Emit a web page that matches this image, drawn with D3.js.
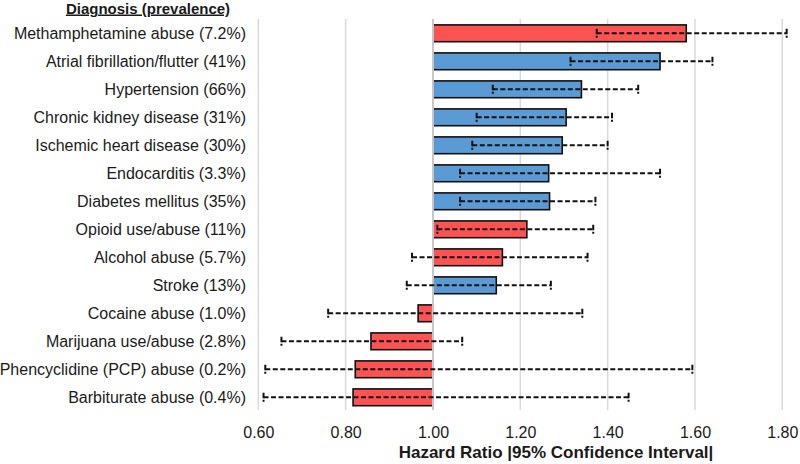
<!DOCTYPE html>
<html>
<head>
<script src="https://cdn.jsdelivr.net/npm/d3@7"></script>
<style type="text/css">
  body {
    margin: 0;
    background: #fff;
    font-family: 'Liberation Sans', Arial, Helvetica, sans-serif;
  }
  .row-label, .tick text {
    font-size: 16px;
    fill: #1a1a1a;
  }
</style>
</head>
<body>
<script type="text/javascript">

var labels = [
  "Methamphetamine abuse (7.2%)",
  "Atrial fibrillation/flutter (41%)",
  "Hypertension (66%)",
  "Chronic kidney disease (31%)",
  "Ischemic heart disease (30%)",
  "Endocarditis (3.3%)",
  "Diabetes mellitus (35%)",
  "Opioid use/abuse (11%)",
  "Alcohol abuse (5.7%)",
  "Stroke (13%)",
  "Cocaine abuse (1.0%)",
  "Marijuana use/abuse (2.8%)",
  "Phencyclidine (PCP) abuse (0.2%)",
  "Barbiturate abuse (0.4%)"
];
// substance = red, medical = blue
var groups = ["substance", "medical", "medical", "medical", "medical", "medical", "medical",
              "substance", "substance", "medical", "substance", "substance", "substance", "substance"];
var hazard = [1.58, 1.52, 1.34, 1.305, 1.296, 1.265, 1.267, 1.215, 1.159, 1.145, 0.966, 0.858, 0.822, 0.817];
var lower  = [1.375, 1.315, 1.137, 1.10, 1.09, 1.062, 1.062, 1.01, 0.952, 0.94, 0.76, 0.653, 0.616, 0.612];
var upper  = [1.81, 1.64, 1.47, 1.41, 1.40, 1.52, 1.372, 1.367, 1.354, 1.27, 1.342, 1.067, 1.594, 1.448];
var tickValues = [0.6, 0.8, 1.0, 1.2, 1.4, 1.6, 1.8];

var width = 800, height = 464;
var colors = {substance: "#ff5353", medical: "#5b9bd5"};

var svg = d3.select("body").append("svg")
    .attr("width", width)
    .attr("height", height);

var x = d3.scaleLinear().domain([0.6, 1.8]).range([258.3, 782.3]);
var y = d3.scaleBand().domain(labels).range([19.3, 411.3])
    .paddingInner(0.4).paddingOuter(0.2);

var rows = labels.map(function(d, i) {
  return {label: d, group: groups[i], hr: hazard[i], lo: lower[i], hi: upper[i]};
});

// gridlines
svg.append("g").selectAll("line.grid")
    .data(tickValues)
    .enter().append("line")
    .attr("class", "grid")
    .attr("x1", function(d) { return x(d); })
    .attr("x2", function(d) { return x(d); })
    .attr("y1", 19)
    .attr("y2", 410)
    .attr("stroke", "#d9d9d9")
    .attr("stroke-width", 1.5);

// bars from 1.00
svg.append("g").selectAll("rect")
    .data(rows)
    .enter().append("rect")
    .attr("x", function(d) { return x(Math.min(1, d.hr)); })
    .attr("width", function(d) { return Math.abs(x(d.hr) - x(1)); })
    .attr("y", function(d) { return y(d.label); })
    .attr("height", y.bandwidth())
    .attr("fill", function(d) { return colors[d.group]; })
    .attr("stroke", "#111")
    .attr("stroke-width", 1.6);

// reference line at 1.00
svg.append("line")
    .attr("x1", x(1)).attr("x2", x(1))
    .attr("y1", 19).attr("y2", 410)
    .attr("stroke", "#c8c8c8")
    .attr("stroke-width", 2);

// confidence intervals
var ci = svg.append("g").selectAll("g.ci")
    .data(rows)
    .enter().append("g")
    .attr("class", "ci")
    .attr("transform", function(d) { return "translate(0," + (y(d.label) + y.bandwidth() / 2) + ")"; });

ci.append("line")
    .attr("x1", function(d) { return x(d.lo); })
    .attr("x2", function(d) { return x(d.hi); })
    .attr("stroke", "#111")
    .attr("stroke-width", 2)
    .attr("stroke-dasharray", "5,2.5");

ci.selectAll("line.cap")
    .data(function(d) { return [d.lo, d.hi]; })
    .enter().append("line")
    .attr("class", "cap")
    .attr("x1", function(d) { return x(d); })
    .attr("x2", function(d) { return x(d); })
    .attr("y1", -4.5)
    .attr("y2", 4.5)
    .attr("stroke", "#111")
    .attr("stroke-width", 2)
    .attr("stroke-dasharray", "5.5,1.5");

// row labels
svg.append("g").selectAll("text")
    .data(rows)
    .enter().append("text")
    .attr("class", "row-label")
    .attr("x", 246)
    .attr("y", function(d) { return y(d.label) + y.bandwidth() / 2; })
    .attr("dy", "0.36em")
    .attr("text-anchor", "end")
    .text(function(d) { return d.label; });

// header
svg.append("text")
    .attr("x", 148)
    .attr("y", 13.5)
    .attr("text-anchor", "middle")
    .attr("font-size", 15)
    .attr("font-weight", "bold")
    .attr("fill", "#1a1a1a")
    .style("text-decoration", "underline")
    .text("Diagnosis (prevalence)");

// x axis
var xAxis = d3.axisBottom(x)
    .tickValues(tickValues)
    .tickFormat(d3.format(".2f"))
    .tickSize(0)
    .tickPadding(0);

var gx = svg.append("g")
    .attr("transform", "translate(0,426)")
    .call(xAxis);
gx.select(".domain").remove();
gx.selectAll(".tick text")
    .attr("dy", "0.78em")
    .style("font-family", "'Liberation Sans', Arial, sans-serif");

svg.append("text")
    .attr("x", 556)
    .attr("y", 458)
    .attr("text-anchor", "middle")
    .attr("font-size", 17)
    .attr("font-weight", "bold")
    .attr("fill", "#1a1a1a")
    .text("Hazard Ratio |95% Confidence Interval|");

</script>
</body>
</html>
